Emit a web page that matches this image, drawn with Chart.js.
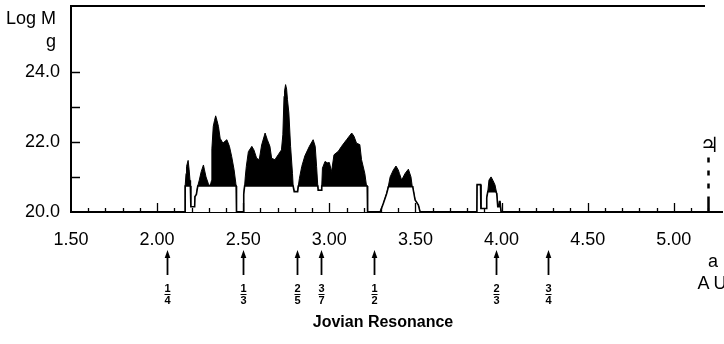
<!DOCTYPE html>
<html>
<head>
<meta charset="utf-8">
<script src="https://cdn.jsdelivr.net/npm/chart.js@4/dist/chart.umd.min.js"></script>
<style>
  html, body { margin: 0; padding: 0; background: #fff; }
  #wrap { width: 724px; height: 344px; }
</style>
</head>
<body>
<div id="wrap"><canvas id="c" width="724" height="344"></canvas></div>
<script>
// Upper envelope: log of total asteroid mass per semi-major-axis bin (g)
const totalAU = [
  1.50, 2.162, 2.163, 2.168, 2.171, 2.180, 2.186, 2.191, 2.193, 2.196, 2.218, 2.220, 2.228, 2.236,
  2.245, 2.256, 2.269, 2.275, 2.284, 2.298, 2.308, 2.316, 2.318, 2.326, 2.333, 2.340, 2.348, 2.356,
  2.366, 2.382, 2.395, 2.405, 2.420, 2.433, 2.447, 2.457, 2.459, 2.461,
  2.499, 2.503, 2.508, 2.512, 2.518, 2.530, 2.550, 2.562, 2.578, 2.593, 2.607, 2.627, 2.640, 2.655,
  2.665, 2.684, 2.703, 2.722, 2.730, 2.737, 2.740, 2.746, 2.752, 2.757, 2.765, 2.775, 2.786, 2.790,
  2.796, 2.816, 2.820, 2.826, 2.840, 2.858, 2.884, 2.906, 2.918, 2.926, 2.933, 2.935, 2.953, 2.956,
  2.960, 2.975, 2.988, 3.000, 3.013, 3.027, 3.052, 3.071, 3.100, 3.130, 3.143, 3.158, 3.177, 3.187,
  3.206, 3.216, 3.220, 3.222,
  3.295, 3.314, 3.333, 3.343, 3.353, 3.372, 3.387, 3.400, 3.407, 3.420, 3.440, 3.459, 3.474, 3.481,
  3.484, 3.498, 3.517, 3.527,
  3.857, 3.858, 3.878, 3.880, 3.910, 3.914, 3.920, 3.927, 3.939, 3.950, 3.962, 3.972, 3.978, 3.985,
  3.988, 3.991, 3.997, 5.28
];
const totalLogM = [
  20.0, 20.0, 20.74, 21.1, 21.3, 21.47, 21.2, 20.9, 20.74, 20.15, 20.15, 20.44, 20.5, 20.74,
  20.91, 21.15, 21.34, 21.2, 21.0, 20.8, 20.74, 20.9, 21.8, 22.44, 22.6, 22.74, 22.6, 22.44,
  22.1, 21.96, 22.02, 22.06, 21.87, 21.58, 21.2, 20.82, 20.74, 20.0,
  20.0, 20.5, 20.74, 21.0, 21.3, 21.72, 21.87, 21.77, 21.53, 21.49, 21.91, 22.25, 22.06, 21.87,
  21.53, 21.49, 21.63, 21.77, 22.2, 23.3, 23.45, 23.63, 23.5, 23.2, 22.82, 21.87, 21.1, 20.74,
  20.58, 20.58, 20.74, 20.95, 21.3, 21.6, 21.87, 22.06, 21.87, 21.3, 20.74, 20.62, 20.62, 20.74,
  21.25, 21.44, 21.4, 21.41, 21.15, 21.63, 21.73, 21.87, 22.06, 22.25, 22.16, 21.96, 21.92, 21.49,
  21.1, 20.74, 20.74, 20.0,
  20.0, 20.25, 20.53, 20.74, 21.0, 21.2, 21.31, 21.2, 21.1, 20.91, 21.1, 21.22, 21.0, 20.74,
  20.72, 20.34, 20.2, 20.0,
  20.0, 20.78, 20.78, 20.1, 20.1, 20.4, 20.58, 20.91, 21.0, 20.9, 20.77, 20.53, 20.15, 20.15,
  20.3, 20.3, 20.0, 20.0
];

// Lower outline: log mass of the background population in each zone (g)
const floorAU = [
  1.50, 2.162, 2.163, 2.193, 2.196, 2.218, 2.220, 2.228, 2.236, 2.459, 2.461,
  2.499, 2.503, 2.508, 2.790, 2.796, 2.816, 2.820, 2.933, 2.935, 2.953, 2.956, 3.220, 3.222,
  3.295, 3.314, 3.333, 3.343, 3.484, 3.498, 3.517, 3.527,
  3.857, 3.858, 3.878, 3.880, 3.910, 3.914, 3.920, 3.966, 3.972, 3.978, 3.985, 3.988, 3.991, 3.997,
  5.28
];
const floorLogM = [
  20.0, 20.0, 20.74, 20.74, 20.15, 20.15, 20.44, 20.5, 20.74, 20.74, 20.0,
  20.0, 20.5, 20.74, 20.74, 20.58, 20.58, 20.74, 20.74, 20.62, 20.62, 20.74, 20.74, 20.0,
  20.0, 20.25, 20.53, 20.72, 20.72, 20.34, 20.2, 20.0,
  20.0, 20.78, 20.78, 20.1, 20.1, 20.4, 20.58, 20.58, 20.53, 20.15, 20.15, 20.3, 20.3, 20.0,
  20.0
];

const xTickLabels = [1.5, 2.0, 2.5, 3.0, 3.5, 4.0, 4.5, 5.0];
const yTickLabels = [20, 22, 24];
const yMinorTicks = [21, 22, 23, 24];

// Jovian mean-motion resonances (period ratios) and their locations in AU
const resonanceAU  = [2.06, 2.50, 2.81, 2.95, 3.26, 3.97, 4.27];
const resonanceNum = ['1', '1', '2', '3', '1', '2', '3'];
const resonanceDen = ['4', '3', '5', '7', '2', '3', '4'];
const jupiterAU = 5.20;
const jupiterTopLogM = 21.55;

const FONT = '"Liberation Sans", Arial, sans-serif';

const decorations = {
  id: 'decorations',
  afterDraw(chart) {
    const ctx = chart.ctx;
    const x = chart.scales.x, y = chart.scales.y;
    const area = chart.chartArea;
    ctx.save();
    ctx.strokeStyle = '#000';
    ctx.fillStyle = '#000';

    // frame top line
    ctx.lineWidth = 2;
    ctx.beginPath();
    ctx.moveTo(area.left - 1, area.top);
    ctx.lineTo(705, area.top);
    ctx.stroke();

    // inward ticks on the a-axis, every 0.1 AU
    ctx.lineWidth = 1.3;
    for (let k = 16; k <= 52; k++) {
      const px = Math.round(x.getPixelForValue(k / 10)) + 0.5;
      const len = (k % 5 === 0) ? 9 : 4;
      ctx.beginPath();
      ctx.moveTo(px, area.bottom);
      ctx.lineTo(px, area.bottom - len);
      ctx.stroke();
    }
    // inward ticks on the log M axis
    ctx.lineWidth = 1.5;
    for (const v of yMinorTicks) {
      const py = Math.round(y.getPixelForValue(v)) + 0.5;
      ctx.beginPath();
      ctx.moveTo(area.left, py);
      ctx.lineTo(area.left + 9, py);
      ctx.stroke();
    }

    // Jupiter's orbit
    const jx = Math.round(x.getPixelForValue(jupiterAU)) + 0.5;
    const jTop = y.getPixelForValue(jupiterTopLogM);
    ctx.lineWidth = 2.5;
    ctx.beginPath();
    ctx.moveTo(jx, area.bottom);
    ctx.lineTo(jx, area.bottom - 14);
    ctx.stroke();
    ctx.setLineDash([5, 8]);
    ctx.beginPath();
    ctx.moveTo(jx, jTop);
    ctx.lineTo(jx, area.bottom - 14);
    ctx.stroke();
    ctx.setLineDash([]);
    ctx.font = '21px "DejaVu Sans", sans-serif';
    ctx.textAlign = 'center';
    ctx.textBaseline = 'middle';
    ctx.fillText('\u2643', jx + 1, jTop - 11);

    // axis titles
    ctx.font = '18px ' + FONT;
    ctx.textAlign = 'right';
    ctx.textBaseline = 'middle';
    ctx.fillText('Log M', 56, 19);
    ctx.fillText('g', 56, 42);
    ctx.textAlign = 'center';
    ctx.fillText('a', 713, 262);
    ctx.letterSpacing = '4px';
    ctx.fillText('AU', 714, 284);
    ctx.letterSpacing = '0px';

    // resonance arrows with their period ratios
    for (let i = 0; i < resonanceAU.length; i++) {
      const px = Math.round(x.getPixelForValue(resonanceAU[i])) + 0.5;
      ctx.lineWidth = 1.8;
      ctx.beginPath();
      ctx.moveTo(px, 256);
      ctx.lineTo(px, 275);
      ctx.stroke();
      ctx.beginPath();
      ctx.moveTo(px, 250);
      ctx.lineTo(px - 2.8, 258);
      ctx.lineTo(px + 2.8, 258);
      ctx.closePath();
      ctx.fill();
      ctx.font = 'bold 11px "Liberation Sans", Arial, sans-serif';
      ctx.textAlign = 'center';
      ctx.textBaseline = 'middle';
      ctx.fillText(resonanceNum[i], px, 289);
      ctx.fillText(resonanceDen[i], px, 301);
      ctx.lineWidth = 1;
      ctx.beginPath();
      ctx.moveTo(px - 3, 294.5);
      ctx.lineTo(px + 3, 294.5);
      ctx.stroke();
    }
    ctx.font = 'bold 16px "Liberation Sans", Arial, sans-serif';
    ctx.textAlign = 'center';
    ctx.textBaseline = 'middle';
    ctx.fillText('Jovian Resonance', 383, 323);
    ctx.restore();
  }
};

new Chart(document.getElementById('c'), {
  type: 'line',
  data: {
    datasets: [
      {
        label: 'background',
        data: floorAU.map((a, i) => ({ x: a, y: floorLogM[i] })),
        borderColor: '#000',
        borderWidth: 1.6,
        backgroundColor: '#fff',
        fill: 'start',
        pointRadius: 0,
        tension: 0
      },
      {
        label: 'total',
        data: totalAU.map((a, i) => ({ x: a, y: totalLogM[i] })),
        borderColor: '#000',
        borderWidth: 1,
        backgroundColor: '#000',
        fill: 'start',
        pointRadius: 0,
        tension: 0
      }
    ]
  },
  options: {
    responsive: false,
    devicePixelRatio: 1,
    animation: false,
    layout: { padding: { left: 0, top: 6, right: 2, bottom: 0 } },
    plugins: { legend: { display: false }, tooltip: { enabled: false } },
    scales: {
      x: {
        type: 'linear',
        min: 1.5,
        max: 5.28,
        z: 1,
        grid: { display: false, drawTicks: false },
        border: { display: true, color: '#000', width: 2 },
        afterBuildTicks: s => { s.ticks = xTickLabels.map(v => ({ value: v })); },
        afterFit: s => { s.height = 132; s.paddingLeft = 0; s.paddingRight = 0; },
        ticks: {
          autoSkip: false,
          maxRotation: 0,
          padding: 17,
          color: '#000',
          font: { family: FONT, size: 18 },
          callback: v => Number(v).toFixed(2)
        }
      },
      y: {
        type: 'linear',
        min: 20,
        max: 25.87,
        z: 1,
        grid: { display: false, drawTicks: false },
        border: { display: true, color: '#000', width: 2 },
        afterBuildTicks: s => { s.ticks = yTickLabels.map(v => ({ value: v })); },
        afterFit: s => { s.width = 71; s.paddingTop = 0; s.paddingBottom = 0; },
        ticks: {
          padding: 11,
          color: '#000',
          font: { family: FONT, size: 18 },
          callback: v => Number(v).toFixed(1)
        }
      }
    }
  },
  plugins: [decorations]
});
</script>
</body>
</html>
